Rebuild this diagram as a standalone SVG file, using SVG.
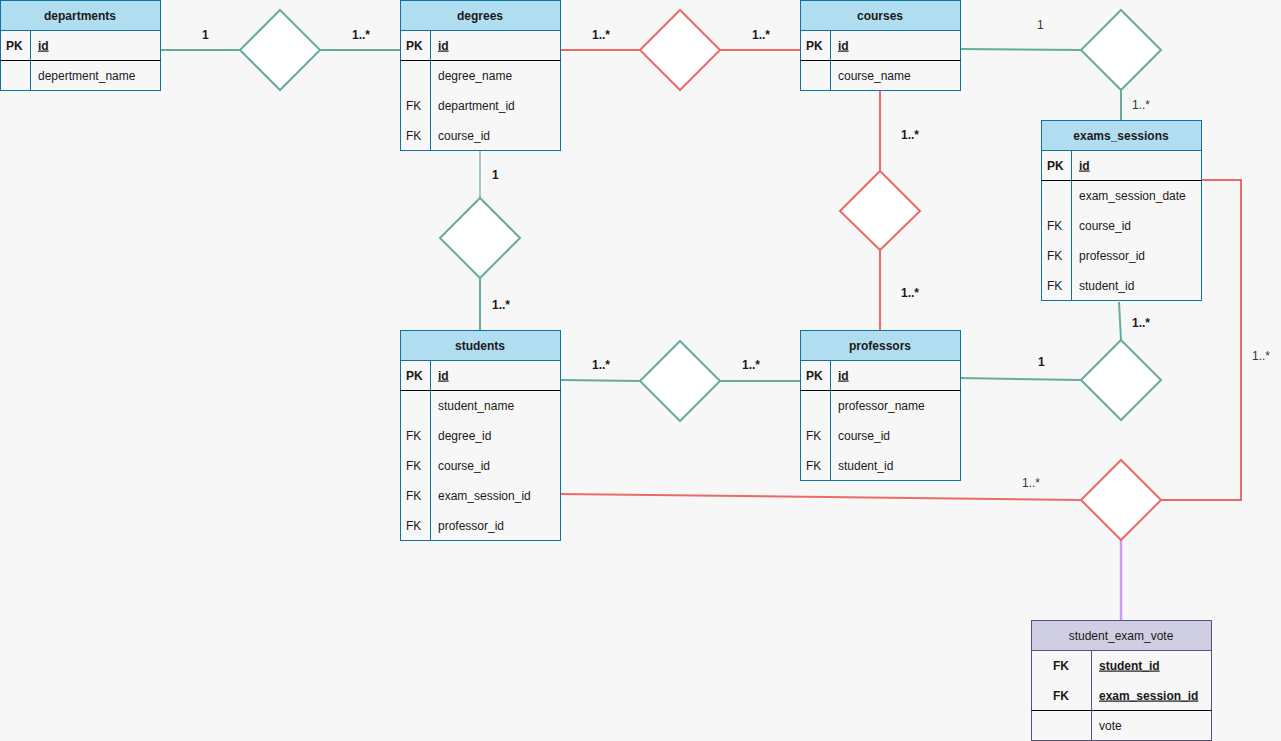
<svg xmlns="http://www.w3.org/2000/svg" width="1281" height="741" viewBox="0 0 1281 741">
  <style>
    text { font-family: "Liberation Sans", Arial, sans-serif; font-size: 12px; fill: #1a1a1a; }
    .hdr { font-weight: bold; text-anchor: middle; }
    .u { text-decoration: underline; }
    .b { font-weight: bold; }
    .lbl { font-size: 12px; fill: #333333; }
    .lblb { font-size: 12px; font-weight: bold; fill: #1a1a1a; }
    .tbl { fill: #f7f7f7; stroke: #10739e; stroke-width: 1; }
    .head { fill: #b1ddf0; stroke: #10739e; stroke-width: 1; }
    .col { stroke: #10739e; stroke-width: 1; fill: none; }
    .sep { stroke: #000000; stroke-width: 1.2; }
    .tbl2 { fill: #f7f7f7; stroke: #56517e; stroke-width: 1; }
    .head2 { fill: #d0cee2; stroke: #56517e; stroke-width: 1; }
    .col2 { stroke: #56517e; stroke-width: 1; fill: none; }
    .dt { fill: #ffffff; stroke: #67ab9f; stroke-width: 2; }
    .dr { fill: #ffffff; stroke: #ea6b66; stroke-width: 2; }
    .ct { stroke: #67ab9f; stroke-width: 2; fill: none; }
    .cr { stroke: #ea6b66; stroke-width: 2; fill: none; }
    .cp { stroke: #cc99ff; stroke-width: 2.4; fill: none; }
  </style>
  <rect x="0" y="0" width="1281" height="741" fill="#f7f7f7"/>

  <!-- connectors -->
  <g id="connectors">
    <line class="ct" x1="160" y1="50" x2="241" y2="50"/>
    <line class="ct" x1="320" y1="50" x2="400" y2="50"/>
    <line class="cr" x1="560" y1="50" x2="641" y2="50"/>
    <line class="cr" x1="720" y1="50" x2="800" y2="50"/>
    <line class="ct" x1="960" y1="49" x2="1082" y2="50"/>
    <line class="ct" x1="1121" y1="90" x2="1121" y2="120"/>
    <line class="ct" x1="480" y1="150" x2="480" y2="198" stroke-opacity="0.6"/>
    <line class="ct" x1="480" y1="278" x2="480" y2="330"/>
    <line class="cr" x1="880" y1="90" x2="880" y2="171"/>
    <line class="cr" x1="880" y1="250" x2="880" y2="330"/>
    <line class="ct" x1="560" y1="380" x2="641" y2="381"/>
    <line class="ct" x1="720" y1="381" x2="800" y2="381"/>
    <line class="ct" x1="960" y1="378" x2="1081" y2="380"/>
    <line class="ct" x1="1119" y1="302" x2="1121" y2="340"/>
    <line class="cr" x1="560" y1="494" x2="1081" y2="500"/>
    <polyline class="cr" points="1201,180 1241,180 1241,500 1161,500"/>
    <line class="cp" x1="1121" y1="540" x2="1121" y2="621"/>

    <text class="lblb" x="202" y="39">1</text>
    <text class="lblb" x="352" y="39">1..*</text>
    <text class="lblb" x="592" y="39">1..*</text>
    <text class="lblb" x="752" y="39">1..*</text>
    <text class="lbl" x="1037" y="29">1</text>
    <text class="lbl" x="1132" y="109">1..*</text>
    <text class="lblb" x="492" y="179">1</text>
    <text class="lblb" x="492" y="309">1..*</text>
    <text class="lblb" x="901" y="139">1..*</text>
    <text class="lblb" x="901" y="297">1..*</text>
    <text class="lblb" x="592" y="369">1..*</text>
    <text class="lblb" x="742" y="369">1..*</text>
    <text class="lblb" x="1038" y="366">1</text>
    <text class="lblb" x="1132" y="327">1..*</text>
    <text class="lbl" x="1022" y="487">1..*</text>
    <text class="lbl" x="1252" y="360">1..*</text>
  </g>

  <!-- relationship diamonds -->
  <g id="rel-dept-degree"><polygon class="dt" points="280,10 320,50 280,90 240,50"/></g>
  <g id="rel-degree-course"><polygon class="dr" points="680,10 720,50 680,90 640,50"/></g>
  <g id="rel-course-exam"><polygon class="dt" points="1121,10 1161,50 1121,90 1081,50"/></g>
  <g id="rel-degree-student"><polygon class="dt" points="480,198 520,238 480,278 440,238"/></g>
  <g id="rel-course-professor"><polygon class="dr" points="880,171 920,211 880,250 840,211"/></g>
  <g id="rel-student-professor"><polygon class="dt" points="680,341 720,381 680,421 640,381"/></g>
  <g id="rel-professor-exam"><polygon class="dt" points="1121,340 1161,380 1121,420 1081,380"/></g>
  <g id="rel-vote"><polygon class="dr" points="1121,460 1161,500 1121,540 1081,500"/></g>

  <!-- departments -->
  <g id="departments">
    <rect class="tbl" x="0.5" y="0.5" width="160" height="90"/>
    <rect class="head" x="0.5" y="0.5" width="160" height="30"/>
    <line class="col" x1="30.5" y1="30.5" x2="30.5" y2="90.5"/>
    <line class="sep" x1="0.5" y1="60.5" x2="160.5" y2="60.5"/>
    <text class="hdr" x="80" y="19.5">departments</text>
    <text class="b" x="6" y="49.5">PK</text>
    <text class="b u" x="38" y="49.5">id</text>
    <text x="38" y="79.5">depertment_name</text>
  </g>

  <!-- degrees -->
  <g id="degrees">
    <rect class="tbl" x="400.5" y="0.5" width="160" height="150"/>
    <rect class="head" x="400.5" y="0.5" width="160" height="30"/>
    <line class="col" x1="430.5" y1="30.5" x2="430.5" y2="150.5"/>
    <line class="sep" x1="400.5" y1="60.5" x2="560.5" y2="60.5"/>
    <text class="hdr" x="480" y="19.5">degrees</text>
    <text class="b" x="406" y="49.5">PK</text>
    <text class="b u" x="438" y="49.5">id</text>
    <text x="438" y="79.5">degree_name</text>
    <text x="406" y="109.5">FK</text>
    <text x="438" y="109.5">department_id</text>
    <text x="406" y="139.5">FK</text>
    <text x="438" y="139.5">course_id</text>
  </g>

  <!-- courses -->
  <g id="courses">
    <rect class="tbl" x="800.5" y="0.5" width="160" height="90"/>
    <rect class="head" x="800.5" y="0.5" width="160" height="30"/>
    <line class="col" x1="830.5" y1="30.5" x2="830.5" y2="90.5"/>
    <line class="sep" x1="800.5" y1="60.5" x2="960.5" y2="60.5"/>
    <text class="hdr" x="880" y="19.5">courses</text>
    <text class="b" x="806" y="49.5">PK</text>
    <text class="b u" x="838" y="49.5">id</text>
    <text x="838" y="79.5">course_name</text>
  </g>

  <!-- exams_sessions -->
  <g id="exams_sessions">
    <rect class="tbl" x="1041.5" y="120.5" width="160" height="180"/>
    <rect class="head" x="1041.5" y="120.5" width="160" height="30"/>
    <line class="col" x1="1071.5" y1="150.5" x2="1071.5" y2="300.5"/>
    <line class="sep" x1="1041.5" y1="180.5" x2="1201.5" y2="180.5"/>
    <text class="hdr" x="1121" y="139.5">exams_sessions</text>
    <text class="b" x="1047" y="169.5">PK</text>
    <text class="b u" x="1079" y="169.5">id</text>
    <text x="1079" y="199.5">exam_session_date</text>
    <text x="1047" y="229.5">FK</text>
    <text x="1079" y="229.5">course_id</text>
    <text x="1047" y="259.5">FK</text>
    <text x="1079" y="259.5">professor_id</text>
    <text x="1047" y="289.5">FK</text>
    <text x="1079" y="289.5">student_id</text>
  </g>

  <!-- students -->
  <g id="students">
    <rect class="tbl" x="400.5" y="330.5" width="160" height="210"/>
    <rect class="head" x="400.5" y="330.5" width="160" height="30"/>
    <line class="col" x1="430.5" y1="360.5" x2="430.5" y2="540.5"/>
    <line class="sep" x1="400.5" y1="390.5" x2="560.5" y2="390.5"/>
    <text class="hdr" x="480" y="349.5">students</text>
    <text class="b" x="406" y="379.5">PK</text>
    <text class="b u" x="438" y="379.5">id</text>
    <text x="438" y="409.5">student_name</text>
    <text x="406" y="439.5">FK</text>
    <text x="438" y="439.5">degree_id</text>
    <text x="406" y="469.5">FK</text>
    <text x="438" y="469.5">course_id</text>
    <text x="406" y="499.5">FK</text>
    <text x="438" y="499.5">exam_session_id</text>
    <text x="406" y="529.5">FK</text>
    <text x="438" y="529.5">professor_id</text>
  </g>

  <!-- professors -->
  <g id="professors">
    <rect class="tbl" x="800.5" y="330.5" width="160" height="150"/>
    <rect class="head" x="800.5" y="330.5" width="160" height="30"/>
    <line class="col" x1="830.5" y1="360.5" x2="830.5" y2="480.5"/>
    <line class="sep" x1="800.5" y1="390.5" x2="960.5" y2="390.5"/>
    <text class="hdr" x="880" y="349.5">professors</text>
    <text class="b" x="806" y="379.5">PK</text>
    <text class="b u" x="838" y="379.5">id</text>
    <text x="838" y="409.5">professor_name</text>
    <text x="806" y="439.5">FK</text>
    <text x="838" y="439.5">course_id</text>
    <text x="806" y="469.5">FK</text>
    <text x="838" y="469.5">student_id</text>
  </g>

  <!-- student_exam_vote -->
  <g id="student_exam_vote">
    <rect class="tbl2" x="1031.5" y="620.5" width="180" height="120"/>
    <rect class="head2" x="1031.5" y="620.5" width="180" height="30"/>
    <line class="col2" x1="1091.5" y1="650.5" x2="1091.5" y2="740.5"/>
    <line class="sep" x1="1031.5" y1="710.5" x2="1211.5" y2="710.5"/>
    <text class="hdr" x="1121" y="639.5" style="font-weight:normal">student_exam_vote</text>
    <text class="b" x="1061" y="669.5" text-anchor="middle">FK</text>
    <text class="b u" x="1099" y="669.5">student_id</text>
    <text class="b" x="1061" y="699.5" text-anchor="middle">FK</text>
    <text class="b u" x="1099" y="699.5">exam_session_id</text>
    <text x="1099" y="729.5">vote</text>
  </g>
</svg>
